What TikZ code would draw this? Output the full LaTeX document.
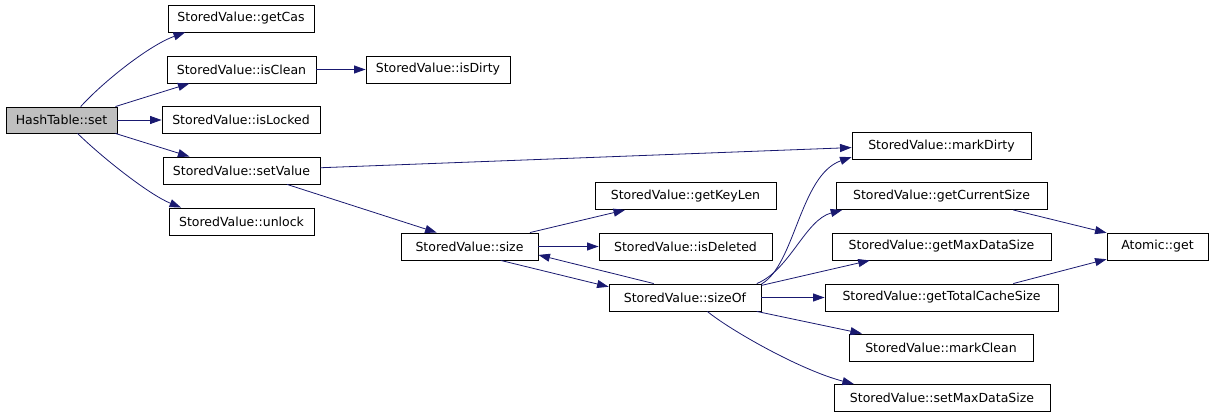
\documentclass[tikz,border=0pt]{standalone}
\usepackage{fontspec}
\setmainfont{DejaVu Sans}
\usepackage{xcolor}
\definecolor{edge_blue}{RGB}{25,25,112}
\definecolor{root_grey}{RGB}{191,191,191}
\usepackage{tikz}
\usetikzlibrary{arrows.meta}

\begin{document}
\begin{tikzpicture}
[
    x = 1pt, y = -1pt,
    func/.style = {draw, line width = 0.9pt, inner sep = 0pt, minimum height = 27pt, font = \fontsize{12.5}{14}\selectfont},
    root/.style = {func, fill = root_grey, minimum height = 26pt},
    call/.style = {draw = edge_blue, line width = 0.8pt, -{Triangle[length = 11.5pt, width = 8pt, fill = edge_blue]}}
]
\useasboundingbox (0,0) rectangle (1213,417);

\node[root, minimum width = 111pt] (set) at (61.5,120) {HashTable::set};
\node[func, minimum width = 146pt] (getCas) at (241,18.5) {StoredValue::getCas};
\node[func, minimum width = 149pt] (isClean) at (241.5,69.5) {StoredValue::isClean};
\node[func, minimum width = 144pt] (isDirty) at (438,69.5) {StoredValue::isDirty};
\node[func, minimum width = 158pt] (isLocked) at (241,120) {StoredValue::isLocked};
\node[func, minimum width = 157pt] (setValue) at (241.5,170.5) {StoredValue::setValue};
\node[func, minimum width = 145pt] (unlock) at (241.5,221.5) {StoredValue::unlock};
\node[func, minimum width = 137pt] (size) at (469.5,246.5) {StoredValue::size};
\node[func, minimum width = 181pt] (getKeyLen) at (685.5,196) {StoredValue::getKeyLen};
\node[func, minimum width = 173pt] (isDeleted) at (685.5,246.5) {StoredValue::isDeleted};
\node[func, minimum width = 152pt] (sizeOf) at (685,297.5) {StoredValue::sizeOf};
\node[func, minimum width = 179pt] (markDirty) at (941.5,146) {StoredValue::markDirty};
\node[func, minimum width = 211pt] (getCurrentSize) at (941.5,196) {StoredValue::getCurrentSize};
\node[func, minimum width = 219pt] (getMaxDataSize) at (941.5,246.5) {StoredValue::getMaxDataSize};
\node[func, minimum width = 233pt] (getTotalCacheSize) at (941.5,297.5) {StoredValue::getTotalCacheSize};
\node[func, minimum width = 184pt] (markClean) at (941,347.5) {StoredValue::markClean};
\node[func, minimum width = 216pt] (setMaxDataSize) at (942,398) {StoredValue::setMaxDataSize};
\node[func, minimum width = 101pt] (atomicGet) at (1157.5,246.5) {Atomic::get};

% calls from HashTable::set
\draw[call] (set.35) .. controls (105,80) and (150,45) .. (getCas.194);
\draw[call] (set.14) -- (isClean.195);
\draw[call] (set) -- (isLocked);
\draw[call] (set.-14) -- (setValue.165);
\draw[call] (set.-40) .. controls (105,160) and (150,195) .. (unlock.167);
\draw[call] (isClean) -- (isDirty);

% setValue and size
\draw[call] (setValue.2) -- (markDirty.181);
\draw[call] (setValue.-17) -- (size.157);
\draw[call] (size.13) -- (getKeyLen.193);
\draw[call] (size) -- (isDeleted);
\draw[call] (size.-24) -- (sizeOf.172);
\draw[call] (sizeOf.156) -- (size.-7);

% calls from sizeOf
\draw[call] (sizeOf.10) .. controls (795,265) and (800,175) .. (markDirty.187);
\draw[call] (sizeOf.11) .. controls (790,270) and (805,220) .. (getCurrentSize.188);
\draw[call] (sizeOf.9) -- (getMaxDataSize.191);
\draw[call] (sizeOf) -- (getTotalCacheSize);
\draw[call] (sizeOf.-11) -- (markClean.170);
\draw[call] (sizeOf.-32) .. controls (730,330) and (800,370) .. (setMaxDataSize.171);
\draw[call] (getCurrentSize.-11) -- (atomicGet.165);
\draw[call] (getTotalCacheSize.11) -- (atomicGet.194);
\end{tikzpicture}
\end{document}
